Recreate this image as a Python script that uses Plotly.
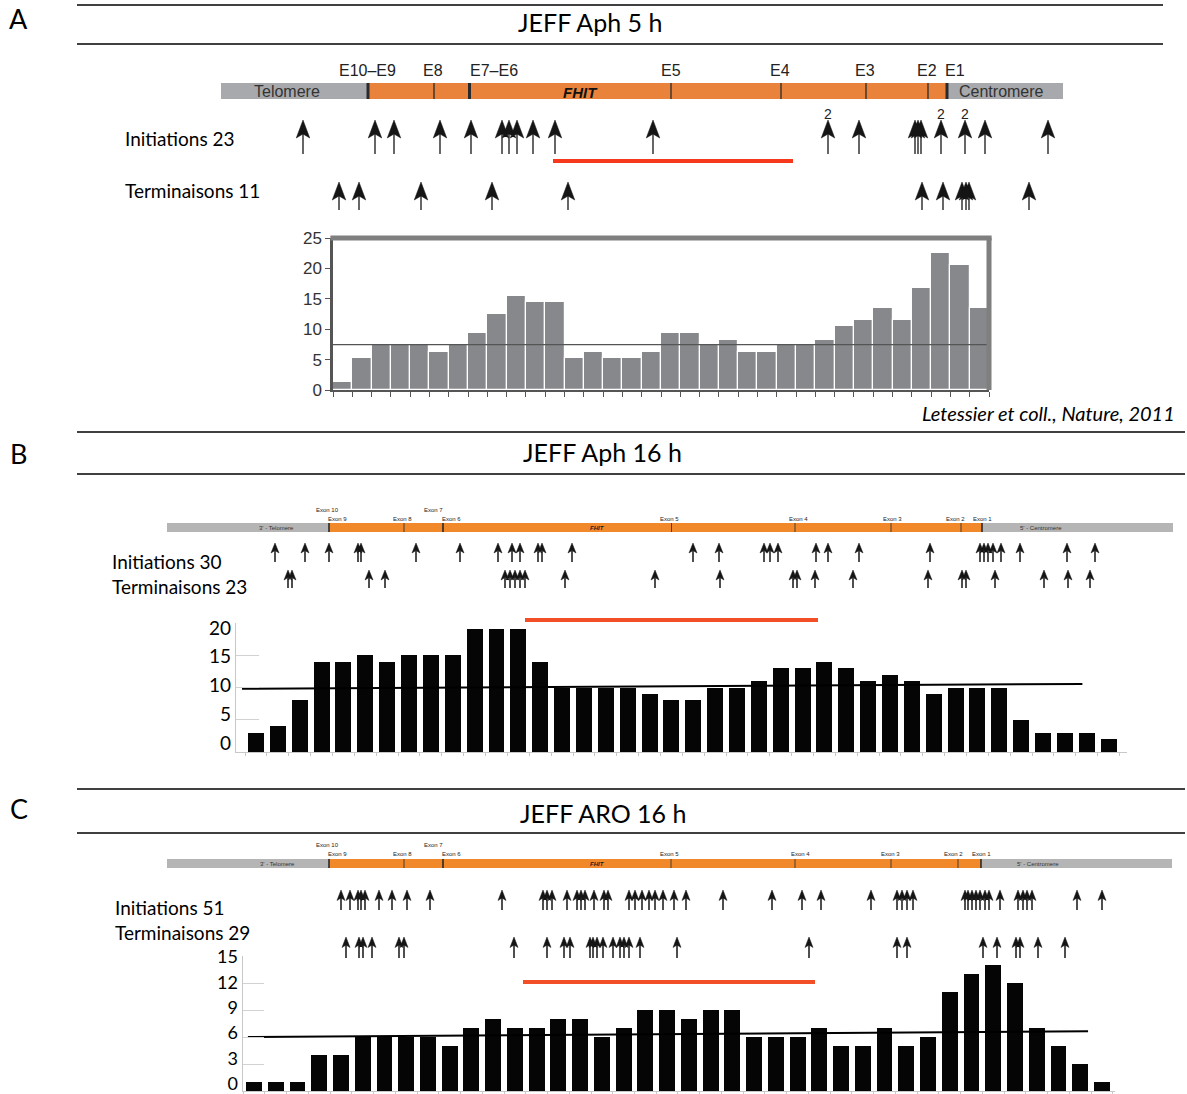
import plotly.graph_objects as go

W, H = 1187, 1094

# ======================= DATA =======================
# Panel A - JEFF Aph 5 h (map units along the drawn locus, telomere -> centromere)
A_MAP_LEN = 842
A_TEL_END = 147
A_CEN_START = 726
A_EXON_LINES = [147, 213, 248.5, 450, 560, 645, 707, 726]
A_EXON_THICK = [1, 0, 1, 0, 0, 0, 0, 1]
A_EXON_LABELS = ["E10–E9", "E8", "E7–E6", "E5", "E4", "E3", "E2", "E1"]
A_EXON_LABEL_POS = [146, 212, 273, 450, 559, 644, 706, 734]
A_INIT = [82, 154, 173, 219, 250, 281, 288, 296, 312, 334, 432, 607, 638,
          694, 697, 700, 720, 744, 764, 827]
A_INIT_DOUBLE = [607, 720, 744]
A_TERM = [118, 138, 200, 271, 347, 701, 722, 741, 745, 748, 808]
A_FRAGILE = [332, 572]
A_PROFILE = [1.3, 5.3, 7.5, 7.5, 7.5, 6.3, 7.5, 9.3, 12.5, 15.4, 14.4, 14.4,
             5.3, 6.3, 5.3, 5.3, 6.3, 9.3, 9.3, 7.5, 8.3, 6.3, 6.3, 7.5, 7.5,
             8.3, 10.5, 11.5, 13.5, 11.5, 16.7, 22.6, 20.6, 13.5]
A_MEAN = 7.45
A_YTICKS = [0, 5, 10, 15, 20, 25]

# Panel B - JEFF Aph 16 h
B_MAP_LEN = 1006
B_TEL_END = 162
B_CEN_START = 815
B_EXON_LINES = [162, 237, 276, 504.5, 628, 724, 794, 815]
B_EXON_THICK = [1, 0, 1, 0, 0, 0, 0, 1]
B_EXON_LABELS = ["Exon 10", "Exon 9", "Exon 8", "Exon 7", "Exon 6", "Exon 5",
                 "Exon 4", "Exon 3", "Exon 2", "Exon 1"]
B_EXON_LABEL_POS = [160, 170, 235, 266, 284, 502, 631, 725, 788, 815]
B_EXON_LABEL_ROW = [0, 1, 1, 0, 1, 1, 1, 1, 1, 1]
B_INIT = [108, 138, 162, 191, 194, 249, 293, 331, 345, 353, 371, 375, 405,
          526, 552, 597, 603, 611, 649, 661, 692, 763, 813, 817, 821, 826,
          834, 853, 900, 928]
B_TERM = [121, 125, 202, 218, 338, 343, 348, 353, 358, 398, 488, 553, 626,
          630, 648, 686, 761, 795, 799, 828, 877, 901, 923]
B_FRAGILE = [358, 651]
B_PROFILE = [3, 4, 8, 14, 14, 15, 14, 15, 15, 15, 19, 19, 19, 14, 10, 10, 10,
             10, 9, 8, 8, 10, 10, 11, 13, 13, 14, 13, 11, 12, 11, 9, 10, 10,
             10, 5, 3, 3, 3, 2]
B_TREND_X = [0.36, 38.8]
B_TREND_Y = [9.8, 10.55]
B_YTICKS = [0, 5, 10, 15, 20]

# Panel C - JEFF ARO 16 h
C_MAP_LEN = 1005
C_TEL_END = 162
C_CEN_START = 814
C_EXON_LINES = [162, 237, 276, 504, 628, 724, 791, 814]
C_EXON_THICK = [1, 0, 1, 0, 0, 0, 0, 1]
C_EXON_LABELS = B_EXON_LABELS
C_EXON_LABEL_POS = [160, 170, 235, 266, 284, 502, 633, 723, 786, 814]
C_EXON_LABEL_ROW = [0, 1, 1, 0, 1, 1, 1, 1, 1, 1]
C_INIT = [174, 183, 191, 194, 198, 212, 225, 240, 263, 335, 376, 380, 385,
          400, 410, 414, 418, 427, 437, 441, 462, 468, 475, 482, 488, 496,
          507, 519, 556, 605, 635, 654, 704, 730, 735, 740, 746, 798, 801,
          805, 809, 813, 818, 822, 833, 851, 856, 860, 865, 910, 935]
C_TERM = [179, 192, 196, 205, 232, 237, 347, 380, 397, 403, 423, 426, 430,
          436, 446, 453, 457, 462, 473, 510, 642, 730, 740, 816, 830, 849,
          853, 871, 898]
C_FRAGILE = [356, 648]
C_PROFILE = [1, 1, 1, 4, 4, 6, 6, 6, 6, 5, 7, 8, 7, 7, 8, 8, 6, 7, 9, 9, 8,
             9, 9, 6, 6, 6, 7, 5, 5, 7, 5, 6, 11, 13, 14, 12, 7, 5, 3, 1]
C_TREND_X = [0.72, 39.36]
C_TREND_Y = [6.0, 6.65]
C_YTICKS = [0, 3, 6, 9, 12, 15]

# ======================= STYLE / HELPERS =======================
CAL = "Lato, 'Open Sans', sans-serif"
HEL = "'Liberation Sans', Arial, sans-serif"
NAR = "'Liberation Sans Narrow', 'Liberation Sans', Arial, sans-serif"


def dx(x0, x1):
    return [x0 / W, x1 / W]


def dy(top, bottom):
    return [1 - bottom / H, 1 - top / H]


fig = go.Figure()
shapes = []
annotations = []


def add_arrows(xs, tip, bottom, w, h, notch, xa, ya, stem_w, color="#151515"):
    hx, hy, sx, sy = [], [], [], []
    for x in xs:
        hx += [x, x + w / 2, x, x - w / 2, x, None]
        hy += [tip, tip + h, tip + h - notch, tip + h, tip, None]
        sx += [x, x, None]
        sy += [tip + h - notch, bottom, None]
    fig.add_trace(go.Scatter(x=sx, y=sy, mode="lines",
                             line=dict(color=color, width=stem_w),
                             xaxis=xa, yaxis=ya, hoverinfo="skip"))
    fig.add_trace(go.Scatter(x=hx, y=hy, mode="lines", fill="toself",
                             fillcolor=color, line=dict(color=color, width=0.5),
                             xaxis=xa, yaxis=ya, hoverinfo="skip"))


def add_map_bar(xa, ya, length, tel_end, cen_start, lines, thick, top, bot,
                gray, orange, thin_w, thick_w):
    for x0, x1, c in [(0, tel_end, gray), (tel_end, cen_start, orange),
                      (cen_start, length, gray)]:
        shapes.append(dict(type="rect", xref=xa, yref=ya, x0=x0, x1=x1,
                           y0=top, y1=bot, fillcolor=c, line_width=0,
                           layer="below"))
    for x, t in zip(lines, thick):
        shapes.append(dict(type="line", xref=xa, yref=ya, x0=x, x1=x,
                           y0=top, y1=bot,
                           line=dict(color="#2a2a2a",
                                     width=thick_w if t else thin_w)))


def add_red(xa, ya, xs, yv, color, w):
    fig.add_trace(go.Scatter(x=xs, y=[yv, yv], mode="lines",
                             line=dict(color=color, width=w),
                             xaxis=xa, yaxis=ya, hoverinfo="skip"))


def paper_text(text, x, y, size, xanchor="center", font=CAL, color="black"):
    annotations.append(dict(text=text, x=x / W, y=1 - y / H, xref="paper",
                            yref="paper", showarrow=False, xanchor=xanchor,
                            yanchor="middle",
                            font=dict(family=font, size=size, color=color)))


def map_text(text, xa, ya, x, y, size, font=HEL, color="#222"):
    annotations.append(dict(text=text, x=x, y=y, xref=xa, yref=ya,
                            showarrow=False, xanchor="center", yanchor="middle",
                            font=dict(family=font, size=size, color=color)))


def hline(y, x0, x1):
    shapes.append(dict(type="line", xref="paper", yref="paper", x0=x0 / W,
                       x1=x1 / W, y0=1 - y / H, y1=1 - y / H,
                       line=dict(color="black", width=1.5)))


# ======================= PANEL HEADERS =======================
for letter, ly, top, bot, xend, title, ty in [
        ("A", 19, 5, 44, 1163, "JEFF Aph 5 h", 22),
        ("B", 453, 432, 474, 1185, "JEFF Aph 16 h", 452),
        ("C", 808, 789, 833, 1185, "JEFF ARO 16 h", 813)]:
    hline(top, 77, xend)
    hline(bot, 77, xend)
    paper_text(letter, 19, ly, 27)
    paper_text(title, 590 if letter == "A" else 603, ty, 25)

# ======================= PANEL A =======================
add_map_bar("x", "y", A_MAP_LEN, A_TEL_END, A_CEN_START, A_EXON_LINES,
            A_EXON_THICK, 28, 44, "#a7a9ac", "#e9833b", 1.3, 3)
for lab, pos in zip(A_EXON_LABELS, A_EXON_LABEL_POS):
    map_text(lab, "x", "y", pos, 15, 16)
map_text("Telomere", "x", "y", 66, 36.5, 16, color="#333")
map_text("<b><i>FHIT</i></b>", "x", "y", 359, 37, 15, color="#111")
map_text("Centromere", "x", "y", 780, 36.5, 16, color="#333")
add_arrows(A_INIT, 65, 99, 13.5, 18, 4, "x", "y", 1.3)
add_arrows(A_TERM, 127, 155, 13.5, 18, 4, "x", "y", 1.3)
for pos in A_INIT_DOUBLE:
    map_text("2", "x", "y", pos, 59, 14)
add_red("x", "y", A_FRAGILE, 106, "#f6381c", 4)
paper_text("Initiations 23", 123, 138, 19, xanchor="left")
paper_text("Terminaisons 11", 123, 190, 19, xanchor="left")

fig.add_trace(go.Bar(x=[i + 0.5 for i in range(len(A_PROFILE))], y=A_PROFILE,
                     width=1, marker=dict(color="#87888c",
                                          line=dict(color="white", width=1.2)),
                     xaxis="x2", yaxis="y2", hoverinfo="skip"))
fig.add_trace(go.Scatter(x=[0, len(A_PROFILE)], y=[A_MEAN, A_MEAN],
                         mode="lines", line=dict(color="#555", width=1.3),
                         xaxis="x2", yaxis="y2", hoverinfo="skip"))
shapes.append(dict(type="line", xref="x2 domain", yref="y2 domain", x0=-0.004,
                   x1=1.004, y0=1, y1=1,
                   line=dict(color="#7f7f7f", width=5)))
shapes.append(dict(type="line", xref="x2 domain", yref="y2 domain", x0=1,
                   x1=1, y0=0, y1=1, line=dict(color="#7f7f7f", width=5)))
paper_text("<i>Letessier et coll., Nature, 2011</i>", 1177, 413, 20,
           xanchor="right")

# ======================= PANEL B =======================
add_map_bar("x3", "y3", B_MAP_LEN, B_TEL_END, B_CEN_START, B_EXON_LINES,
            B_EXON_THICK, 20, 29, "#b5b5b5", "#f1892a", 0.8, 1.6)
for lab, pos, row in zip(B_EXON_LABELS, B_EXON_LABEL_POS, B_EXON_LABEL_ROW):
    map_text(lab, "x3", "y3", pos, 7 if row == 0 else 16, 6, font=NAR)
map_text("3' - Telomere", "x3", "y3", 109, 24.5, 6, font=NAR, color="#333")
map_text("<b><i>FHIT</i></b>", "x3", "y3", 430, 24.5, 6, font=NAR, color="#222")
map_text("5' - Centromere", "x3", "y3", 874, 24.5, 6, font=NAR, color="#333")
add_arrows(B_INIT, 40, 59, 8, 10, 2.5, "x3", "y3", 1.5)
add_arrows(B_TERM, 67, 85, 8, 10, 2.5, "x3", "y3", 1.5)
add_red("x3", "y3", B_FRAGILE, 117, "#f24e28", 4)
paper_text("Initiations 30", 110, 561, 19, xanchor="left")
paper_text("Terminaisons 23", 110, 586, 19, xanchor="left")

fig.add_trace(go.Bar(x=list(range(1, len(B_PROFILE) + 1)), y=B_PROFILE,
                     width=0.73, marker=dict(color="#050505", line_width=0),
                     xaxis="x4", yaxis="y4", hoverinfo="skip"))
fig.add_trace(go.Scatter(x=B_TREND_X, y=B_TREND_Y, mode="lines",
                         line=dict(color="black", width=2),
                         xaxis="x4", yaxis="y4", hoverinfo="skip"))
# invisible anchor trace so that the value-label axis is drawn
fig.add_trace(go.Scatter(x=[1, len(B_PROFILE)], y=[min(B_YTICKS), max(B_YTICKS)],
                         mode="markers", marker=dict(opacity=0),
                         xaxis="x4", yaxis="y7", hoverinfo="skip"))

# ======================= PANEL C =======================
add_map_bar("x5", "y5", C_MAP_LEN, C_TEL_END, C_CEN_START, C_EXON_LINES,
            C_EXON_THICK, 21, 30, "#b5b5b5", "#f1892a", 0.8, 1.6)
for lab, pos, row in zip(C_EXON_LABELS, C_EXON_LABEL_POS, C_EXON_LABEL_ROW):
    map_text(lab, "x5", "y5", pos, 7 if row == 0 else 16, 6, font=NAR)
map_text("3' - Telomere", "x5", "y5", 110, 25.5, 6, font=NAR, color="#333")
map_text("<b><i>FHIT</i></b>", "x5", "y5", 430, 25.5, 6, font=NAR, color="#222")
map_text("5' - Centromere", "x5", "y5", 871, 25.5, 6, font=NAR, color="#333")
add_arrows(C_INIT, 52, 72, 8, 10.5, 2.5, "x5", "y5", 1.5)
add_arrows(C_TERM, 99, 120, 8, 10.5, 2.5, "x5", "y5", 1.5)
add_red("x5", "y5", C_FRAGILE, 144, "#f24e28", 4)
paper_text("Initiations 51", 113, 907, 19, xanchor="left")
paper_text("Terminaisons 29", 113, 932, 19, xanchor="left")

fig.add_trace(go.Bar(x=list(range(1, len(C_PROFILE) + 1)), y=C_PROFILE,
                     width=0.73, marker=dict(color="#050505", line_width=0),
                     xaxis="x6", yaxis="y6", hoverinfo="skip"))
fig.add_trace(go.Scatter(x=C_TREND_X, y=C_TREND_Y, mode="lines",
                         line=dict(color="black", width=2),
                         xaxis="x6", yaxis="y6", hoverinfo="skip"))
fig.add_trace(go.Scatter(x=[1, len(C_PROFILE)], y=[min(C_YTICKS), max(C_YTICKS)],
                         mode="markers", marker=dict(opacity=0),
                         xaxis="x6", yaxis="y8", hoverinfo="skip"))

# ======================= AXES =======================
hidden = dict(visible=False, fixedrange=True, showgrid=False, zeroline=False,
              automargin=False)

bar_x_excel = dict(showline=True, linecolor="#c8c8c8", linewidth=1,
                   ticks="outside", ticklen=3, tickcolor="#c8c8c8",
                   showticklabels=False, showgrid=False, zeroline=False,
                   fixedrange=True, automargin=False)
# axis line + short grid stubs (no labels)
bar_y_excel = dict(showline=True, linecolor="#c8c8c8", linewidth=1,
                   ticks="inside", tickcolor="#d2d2d2", tickwidth=1,
                   showticklabels=False, showgrid=False, zeroline=False,
                   fixedrange=True, automargin=False)
# value labels as in the pasted spreadsheet chart (slightly tighter spacing)
bar_y_labels = dict(showline=False, ticks="", showgrid=False, zeroline=False,
                    fixedrange=True, automargin=False,
                    ticklabeloverflow="allow", ticklabelstandoff=4)

fig.update_layout(
    width=W, height=H, autosize=False,
    margin=dict(l=0, r=0, t=0, b=0, pad=0, autoexpand=False),
    paper_bgcolor="white", plot_bgcolor="rgba(0,0,0,0)", showlegend=False,
    bargap=0,
    # panel A map
    xaxis=dict(domain=dx(221, 1063), range=[0, A_MAP_LEN], anchor="y", **hidden),
    yaxis=dict(domain=dy(55, 215), range=[160, 0], anchor="x", **hidden),
    # panel A profile
    xaxis2=dict(domain=dx(333, 989), range=[0, len(A_PROFILE)], anchor="y2",
                showline=True, linecolor="#555", linewidth=2, ticks="outside",
                ticklen=5, tickcolor="#555", tickwidth=1.3,
                tickvals=list(range(len(A_PROFILE) + 1)),
                showticklabels=False, showgrid=False, zeroline=False,
                fixedrange=True, automargin=False),
    yaxis2=dict(domain=dy(238, 390), range=[0, 25], anchor="x2",
                showline=True, linecolor="#555", linewidth=2.5, ticks="outside",
                ticklen=5, tickcolor="#555", tickwidth=1.3, tickvals=A_YTICKS,
                tickfont=dict(family=HEL, size=17, color="#333"),
                showgrid=False, zeroline=False, fixedrange=True,
                automargin=False),
    # panel B map
    xaxis3=dict(domain=dx(167, 1173), range=[0, B_MAP_LEN], anchor="y3", **hidden),
    yaxis3=dict(domain=dy(503, 626), range=[123, 0], anchor="x3", **hidden),
    # panel B profile
    xaxis4=dict(domain=dx(236, 1127), range=[0.085, 40.84], anchor="y4",
                tickvals=[i + 0.5 for i in range(41)], **bar_x_excel),
    yaxis4=dict(domain=dy(623, 752), range=[0, 20], anchor="x4",
                tickvals=B_YTICKS, ticklen=23, **bar_y_excel),
    yaxis7=dict(domain=dy(628, 743), range=[0, 20], anchor="x4",
                tickvals=B_YTICKS,
                tickfont=dict(family=CAL, size=19, color="black"),
                **bar_y_labels),
    # panel C map
    xaxis5=dict(domain=dx(167, 1172), range=[0, C_MAP_LEN], anchor="y5", **hidden),
    yaxis5=dict(domain=dy(838, 990), range=[152, 0], anchor="x5", **hidden),
    # panel C profile
    xaxis6=dict(domain=dx(243, 1115), range=[0.494, 40.6], anchor="y6",
                tickvals=[i + 0.5 for i in range(41)], **bar_x_excel),
    yaxis6=dict(domain=dy(956, 1091), range=[0, 15], anchor="x6",
                tickvals=C_YTICKS, ticklen=21, **bar_y_excel),
    yaxis8=dict(domain=dy(957, 1083.5), range=[0, 15], anchor="x6",
                tickvals=C_YTICKS,
                tickfont=dict(family=CAL, size=18, color="black"),
                **bar_y_labels),
    shapes=shapes,
    annotations=annotations,
)
for tr in fig.data:
    tr.showlegend = False

fig.write_html("out.html", config={"displayModeBar": False},
               post_script="document.body.style.margin='0px';")
